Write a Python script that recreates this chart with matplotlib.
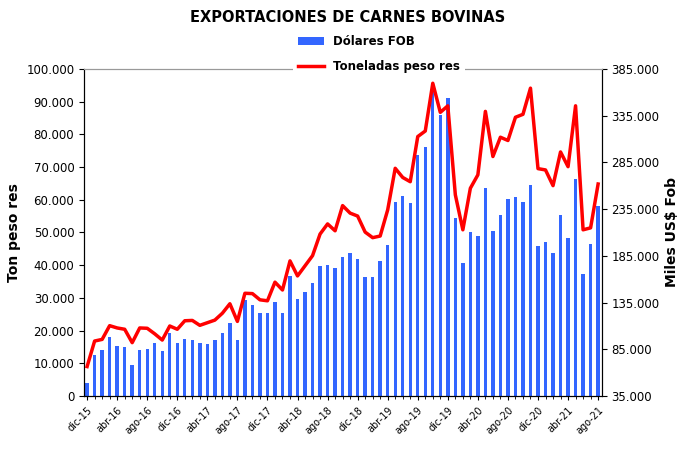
import matplotlib
matplotlib.use("Agg")
import matplotlib.pyplot as plt
import numpy as np

meses = ["ene","feb","mar","abr","may","jun","jul","ago","sep","oct","nov","dic"]
fechas = ["dic-15"] + [f"{m}-{y}" for y in range(16, 22) for m in meses][:68]

dolares_fob = [48650,79100,84350,98000,88550,87850,68600,84350,85750,92050,83650,102550,
 92050,96250,94500,92050,90650,94500,102550,113050,95200,137200,132300,123550,123900,
 135450,123900,163450,138250,145950,155750,174300,175350,171500,184100,187600,181300,
 162050,162400,179550,196700,242550,249200,241150,292950,301350,363300,335650,354200,
 225400,177450,210350,206150,257600,211750,228900,245350,248150,242200,260750,195650,
 199500,187600,228900,204050,267400,165200,197750,238350]

toneladas = [9000,16800,17300,21500,20800,20400,16300,20800,20700,19000,17100,21400,
 20400,23000,23100,21600,22400,23200,25300,28200,22800,31400,31300,29400,29100,34800,
 32400,41300,36700,39800,42900,49500,52600,50500,58200,55900,55000,50100,48400,48900,
 56900,69600,66800,65500,79300,81000,95600,86700,88700,61500,50800,63500,67600,87000,
 73200,79100,78100,85200,86100,94100,69500,69100,64300,74600,70100,88700,50800,51400,64800]

left_ticks = list(range(0, 100001, 10000))
right_ticks = list(range(35000, 385001, 50000))

def fmt(v):
    return f"{v:,}".replace(",", ".")

fig = plt.figure(figsize=(6.95, 4.5), dpi=100)
ax = fig.add_axes([0.121, 0.12, 0.745, 0.727])
ax2 = ax.twinx()
x = np.arange(len(fechas))

ax2.bar(x, dolares_fob, width=0.45, color="#3366FF", label="Dólares FOB", zorder=1)
ax2.set_ylim(35000, 385000)
ax.set_zorder(ax2.get_zorder() + 1)
ax.patch.set_visible(False)
ax.plot(x, toneladas, color="#FF0000", lw=2.5, label="Toneladas peso res", zorder=3)
ax.set_ylim(0, 100000)
ax.set_xlim(-0.4, 68.5)

ax.set_yticks(left_ticks)
ax.set_yticklabels([fmt(v) for v in left_ticks], fontsize=8.5)
ax2.set_yticks(right_ticks)
ax2.set_yticklabels([fmt(v) for v in right_ticks], fontsize=8.5)
ax.set_xticks(x[::4])
ax.set_xticklabels(fechas[::4], rotation=45, ha="right", rotation_mode="anchor", fontsize=7)
ax.set_xticks(x, minor=True)
ax.tick_params(axis="x", which="minor", length=2)
ax.tick_params(axis="x", which="major", length=3)

ax.set_ylabel("Ton peso res", fontsize=10, fontweight="bold")
ax2.set_ylabel("Miles US$ Fob", fontsize=10, fontweight="bold")
for a in (ax, ax2):
    a.spines["top"].set_color("#999999")

fig.text(0.5, 0.96, "EXPORTACIONES DE CARNES BOVINAS", ha="center", va="center",
         fontsize=10.5, fontweight="bold")
h1, l1 = ax2.get_legend_handles_labels()
h2, l2 = ax.get_legend_handles_labels()
leg = fig.legend(h1 + h2, l1 + l2, loc="upper center", bbox_to_anchor=(0.545, 0.945),
                 frameon=True, edgecolor="none", facecolor="white", framealpha=1,
                 prop={"weight": "bold", "size": 8.5}, labelspacing=1.0, handlelength=2.2)
fig.savefig("out.png", dpi=100)
